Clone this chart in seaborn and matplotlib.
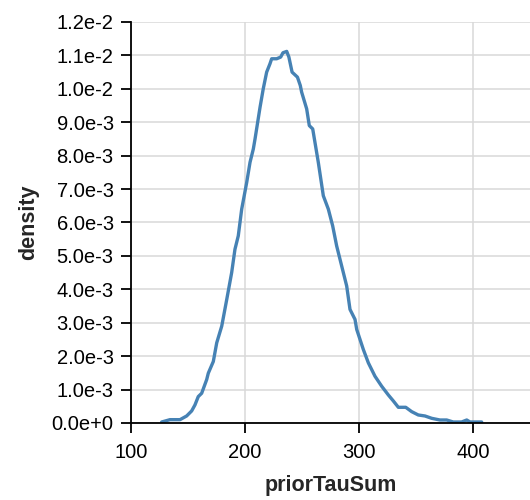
import matplotlib
matplotlib.use("Agg")
import matplotlib.pyplot as plt
import seaborn as sns
import pandas as pd

prior_tau_sum = [126.9, 134.2, 143.0, 148.8, 153.2, 156.1, 159.0, 162.0, 166.4, 167.8,
                 172.2, 175.2, 179.6, 184.0, 188.3, 191.2, 194.1, 197.1, 201.5, 204.4,
                 207.3, 208.8, 213.2, 216.0, 219.0, 221.9, 223.4, 227.8, 231.3, 233.3,
                 236.6, 238.5, 241.3, 246.0, 248.5, 249.7, 254.1, 256.4, 259.4, 264.3,
                 268.7, 273.1, 276.9, 280.4, 284.8, 289.2, 292.1, 296.5, 298.0, 303.8,
                 308.2, 314.0, 319.9, 325.7, 330.1, 334.5, 341.0, 346.2, 352.0, 357.9,
                 363.8, 371.0, 376.9, 382.7, 390.0, 394.5, 397.4, 407.6]
density = [0.00003, 0.00010, 0.00010, 0.00021, 0.00036, 0.00054, 0.00079, 0.00089, 0.00130, 0.00149,
           0.00184, 0.00240, 0.00290, 0.00370, 0.00450, 0.00520, 0.00560, 0.00640, 0.00720, 0.00780,
           0.00820, 0.00850, 0.00945, 0.01000, 0.01050, 0.01075, 0.01090, 0.01090, 0.01095, 0.01108,
           0.01112, 0.01095, 0.01050, 0.01035, 0.01010, 0.00990, 0.00940, 0.00890, 0.00880, 0.00780,
           0.00680, 0.00640, 0.00590, 0.00530, 0.00470, 0.00410, 0.00340, 0.00310, 0.00280, 0.00220,
           0.00180, 0.00140, 0.00110, 0.00084, 0.00066, 0.00047, 0.00047, 0.00034, 0.00024, 0.00021,
           0.00014, 0.00009, 0.00009, 0.00003, 0.00003, 0.00009, 0.00003, 0.00003]

x_ticks = [100, 200, 300, 400]
y_ticks = [0.000, 0.001, 0.002, 0.003, 0.004, 0.005, 0.006, 0.007, 0.008, 0.009, 0.010, 0.011, 0.012]
y_tick_labels = ["0.0e+0", "1.0e-3", "2.0e-3", "3.0e-3", "4.0e-3", "5.0e-3", "6.0e-3",
                 "7.0e-3", "8.0e-3", "9.0e-3", "1.0e-2", "1.1e-2", "1.2e-2"]

sns.set_style("white")
plt.rcParams['font.family'] = ['Liberation Sans', 'DejaVu Sans']

df = pd.DataFrame({"priorTauSum": prior_tau_sum, "density": density})

fig = plt.figure(figsize=(5.3, 5.0), dpi=100)
ax = fig.add_axes([131 / 530, 1 - 423 / 500, 1 - 131 / 530, (423 - 22) / 500])

sns.lineplot(data=df, x="priorTauSum", y="density", ax=ax, color="#4682b4",
             linewidth=2.4, sort=False, estimator=None)

ax.set_xlim(100, 450)
ax.set_ylim(0, 0.012)
ax.set_xticks(x_ticks)
ax.set_xticklabels([str(v) for v in x_ticks])
ax.set_yticks(y_ticks)
ax.set_yticklabels(y_tick_labels)

ax.grid(True, color="#d9d9d9", linewidth=1.1)
ax.set_axisbelow(True)
for s in ["top", "right"]:
    ax.spines[s].set_visible(False)
for s in ["left", "bottom"]:
    ax.spines[s].set_color("black")
    ax.spines[s].set_linewidth(1.3)

ax.tick_params(axis="both", which="major", direction="out", length=7.5, width=1.3,
               color="black", labelsize=14.5, labelcolor="black", pad=5,
               bottom=True, left=True)
ax.tick_params(axis="x", pad=7)
ax.set_xlabel("priorTauSum", fontsize=15.5, fontweight="bold", labelpad=9)
ax.set_ylabel("density", fontsize=15.5, fontweight="bold", labelpad=9)

fig.savefig("out.png", dpi=100, facecolor="white")
